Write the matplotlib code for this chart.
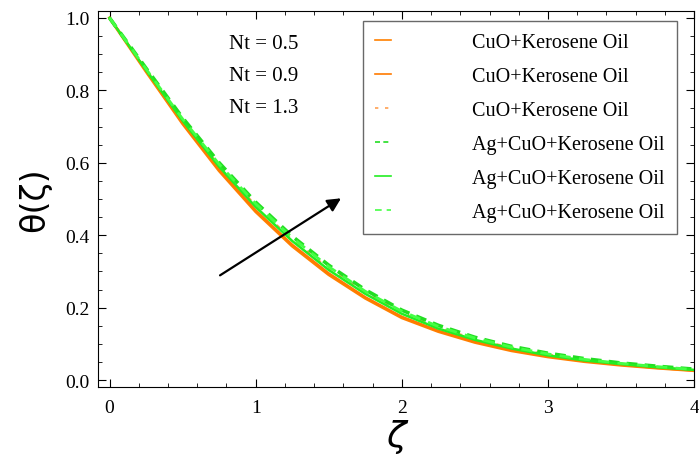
import matplotlib.pyplot as plt
import numpy as np

plt.rcParams['font.family'] = ['Liberation Serif', 'DejaVu Serif']

zeta = [0, 0.25, 0.5, 0.75, 1.0, 1.25, 1.5, 1.75, 2.0, 2.25, 2.5, 2.75, 3.0, 3.25, 3.5, 3.75, 4.0]

cuo_05 = [1.000, 0.852, 0.708, 0.578, 0.465, 0.370, 0.291, 0.226, 0.172, 0.134, 0.104, 0.081, 0.064, 0.051, 0.041, 0.033, 0.026]
cuo_09 = [1.000, 0.854, 0.711, 0.582, 0.469, 0.374, 0.295, 0.229, 0.175, 0.136, 0.106, 0.083, 0.065, 0.052, 0.042, 0.033, 0.026]
cuo_13 = [1.000, 0.858, 0.718, 0.592, 0.482, 0.388, 0.308, 0.241, 0.186, 0.145, 0.113, 0.089, 0.070, 0.056, 0.045, 0.036, 0.029]
ag_05 = [1.000, 0.861, 0.724, 0.600, 0.491, 0.397, 0.317, 0.249, 0.193, 0.151, 0.118, 0.093, 0.074, 0.059, 0.047, 0.038, 0.030]
ag_09 = [1.000, 0.856, 0.716, 0.589, 0.478, 0.384, 0.304, 0.238, 0.183, 0.142, 0.111, 0.087, 0.068, 0.054, 0.044, 0.035, 0.028]
ag_13 = [1.000, 0.859, 0.721, 0.596, 0.487, 0.393, 0.313, 0.245, 0.190, 0.148, 0.116, 0.091, 0.072, 0.057, 0.046, 0.037, 0.029]

labels = ['CuO+Kerosene Oil'] * 3 + ['Ag+CuO+Kerosene Oil'] * 3
nt_labels = ['Nt = 0.5', 'Nt = 0.9', 'Nt = 1.3']

fig = plt.figure(figsize=(6.99, 4.64), dpi=100)
ax = fig.add_axes([0.140, 0.164, 0.853, 0.810])

ax.plot(zeta, cuo_05, color='#ff8000', lw=2.2, label=labels[0])
ax.plot(zeta, cuo_09, color='#ff7a00', lw=1.6, label=labels[1])
ax.plot(zeta, cuo_13, color='#ffa050', lw=1.6, ls=(0, (2, 4)), label=labels[2])
ax.plot(zeta, ag_05, color='#22dd22', lw=2.6, ls=(0, (3, 2)), label=labels[3])
ax.plot(zeta, ag_09, color='#22ee22', lw=1.8, label=labels[4])
ax.plot(zeta, ag_13, color='#44ff44', lw=2.0, ls=(0, (4, 3)), label=labels[5])

ax.set_xlim(-0.08, 4.0)
ax.set_ylim(-0.019, 1.019)
ax.set_xticks([0, 1, 2, 3, 4])
ax.set_yticks([0.0, 0.2, 0.4, 0.6, 0.8, 1.0])
ax.set_yticklabels(['0.0', '0.2', '0.4', '0.6', '0.8', '1.0'])
ax.set_xticks(np.arange(0, 4.01, 0.2), minor=True)
ax.set_yticks(np.arange(0, 1.01, 0.05), minor=True)
ax.tick_params(which='both', direction='in', top=True, right=True, labelsize=14)
ax.tick_params(which='major', length=6)
ax.tick_params(which='minor', length=3)
ax.tick_params(axis='x', pad=9)
ax.tick_params(axis='y', pad=6)

ax.set_xlabel('ζ', fontsize=26, family=['DejaVu Sans'], style='italic', labelpad=2)
ax.set_ylabel('θ(ζ)', fontsize=24, family=['DejaVu Sans'], labelpad=10)

for i, t in enumerate(nt_labels):
    ax.text(0.82, 0.93 - i * 0.088, t, fontsize=15, va='center')

ax.annotate('', xy=(1.60, 0.506), xytext=(0.74, 0.285),
            arrowprops=dict(arrowstyle='-|>', color='black', lw=1.6, mutation_scale=20))

leg = ax.legend(loc='upper left', bbox_to_anchor=(0.445, 0.973), fontsize=14.5,
                handlelength=0.8, handletextpad=4.0, labelspacing=0.74,
                fancybox=False, borderpad=0.6, borderaxespad=0)
leg.get_frame().set_edgecolor('#444444')
leg.get_frame().set_linewidth(1.0)
for h in leg.get_lines():
    h.set_linewidth(1.2)

fig.savefig('out.png', dpi=100)
